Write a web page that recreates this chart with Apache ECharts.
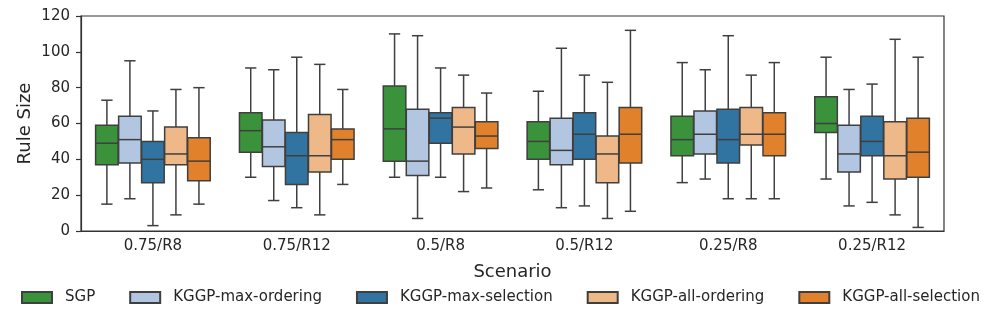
<!DOCTYPE html>
<html>
<head>
<meta charset="utf-8">
<script src="https://cdn.jsdelivr.net/npm/echarts@6/dist/echarts.min.js"></script>
<style>
  html, body { margin: 0; padding: 0; background: #fff; }
  #chart { width: 997px; height: 321px; }
</style>
</head>
<body>
<div id="chart"></div>
<script>
// scenarios on the x axis
var scenarios = ["0.75/R8", "0.75/R12", "0.5/R8", "0.5/R12", "0.25/R8", "0.25/R12"];
var methods = ["SGP", "KGGP-max-ordering", "KGGP-max-selection", "KGGP-all-ordering", "KGGP-all-selection"];
var colors = ["#3a923a", "#b2c6e1", "#3274a1", "#efb888", "#e1812c"];
var yTicks = [0, 20, 40, 60, 80, 100, 120];

// each row: [lowWhisker, q1, median, q3, highWhisker], one row per scenario
var sgp = [
  [15, 37, 49, 59, 73],
  [30, 44, 56, 66, 91],
  [30, 39, 57, 81, 110],
  [23, 40, 50, 61, 78],
  [27, 42, 51, 64, 94],
  [29, 55, 60, 75, 97]
];
var maxOrdering = [
  [18, 38, 51, 64, 95],
  [17, 36, 47, 62, 90],
  [7, 31, 39, 68, 109],
  [13, 37, 45, 63, 102],
  [29, 43, 54, 67, 90],
  [14, 33, 43, 59, 79]
];
var maxSelection = [
  [3, 27, 40, 50, 67],
  [13, 26, 42, 55, 97],
  [30, 49, 63, 66, 91],
  [14, 40, 54, 66, 87],
  [18, 38, 51, 68, 109],
  [16, 42, 50, 64, 82]
];
var allOrdering = [
  [9, 37, 43, 58, 79],
  [9, 33, 42, 65, 93],
  [22, 43, 58, 69, 87],
  [7, 27, 43, 53, 83],
  [18, 48, 54, 69, 87],
  [9, 29, 42, 61, 107]
];
var allSelection = [
  [15, 28, 39, 52, 80],
  [26, 40, 51, 57, 79],
  [24, 46, 53, 61, 77],
  [11, 38, 54, 69, 112],
  [18, 42, 54, 66, 94],
  [2, 30, 44, 63, 97]
];
var allData = [sgp, maxOrdering, maxSelection, allOrdering, allSelection];

var edge = "#3f3f3f";

function makeRender(k) {
  return function (params, api) {
    var ci = api.value(0);
    var band = api.size([1, 0])[0];
    var slot = band * 0.8 / methods.length;
    var w = slot * 0.98;
    var cx = api.coord([ci, 0])[0] - band * 0.4 + slot * (k + 0.5);
    var yLow = api.coord([ci, api.value(1)])[1];
    var yQ1 = api.coord([ci, api.value(2)])[1];
    var yMed = api.coord([ci, api.value(3)])[1];
    var yQ3 = api.coord([ci, api.value(4)])[1];
    var yHigh = api.coord([ci, api.value(5)])[1];
    var ls = { stroke: edge, lineWidth: 1.5 };
    var cap = w / 4;
    return {
      type: "group",
      children: [
        { type: "line", shape: { x1: cx, y1: yQ1, x2: cx, y2: yLow }, style: ls },
        { type: "line", shape: { x1: cx, y1: yQ3, x2: cx, y2: yHigh }, style: ls },
        { type: "line", shape: { x1: cx - cap, y1: yLow, x2: cx + cap, y2: yLow }, style: ls },
        { type: "line", shape: { x1: cx - cap, y1: yHigh, x2: cx + cap, y2: yHigh }, style: ls },
        { type: "rect", shape: { x: cx - w / 2, y: yQ3, width: w, height: yQ1 - yQ3 },
          style: { fill: colors[k], stroke: edge, lineWidth: 1.5 } },
        { type: "line", shape: { x1: cx - w / 2, y1: yMed, x2: cx + w / 2, y2: yMed }, style: ls }
      ]
    };
  };
}

var series = methods.map(function (name, k) {
  return {
    name: name,
    type: "custom",
    renderItem: makeRender(k),
    itemStyle: { color: colors[k], borderColor: edge, borderWidth: 1.5 },
    encode: { x: 0, y: [1, 2, 3, 4, 5] },
    data: allData[k].map(function (r, i) { return [i].concat(r); })
  };
});

var chart = echarts.init(document.getElementById("chart"));
chart.setOption({
  animation: false,
  textStyle: { fontFamily: "DejaVu Sans" },
  grid: { left: 81, right: 53, top: 16, bottom: 90, show: true, borderColor: "#333", borderWidth: 1.2 },
  legend: {
    data: methods,
    left: 16,
    top: 285,
    itemWidth: 30,
    itemHeight: 11,
    itemGap: 34,
    icon: "rect",
    textStyle: { fontSize: 15, color: "#262626", padding: [0, 0, 0, 8] }
  },
  xAxis: {
    type: "category",
    data: scenarios,
    name: "Scenario",
    nameLocation: "middle",
    nameGap: 32,
    nameMoveOverlap: false,
    nameTextStyle: { fontSize: 18, color: "#262626" },
    axisLine: { lineStyle: { color: "#333", width: 1.2 } },
    axisTick: { alignWithLabel: true, length: 5, lineStyle: { color: "#333", width: 1.2 } },
    axisLabel: { fontSize: 15, color: "#262626", margin: 8 },
    splitLine: { show: false }
  },
  yAxis: {
    type: "value",
    min: 0,
    max: 120,
    interval: 20,
    name: "Rule Size",
    nameLocation: "middle",
    nameGap: 47,
    nameMoveOverlap: false,
    nameTextStyle: { fontSize: 18, color: "#262626" },
    axisLine: { show: true, lineStyle: { color: "#333", width: 1.2 } },
    axisTick: { show: true, length: 5, lineStyle: { color: "#333", width: 1.2 } },
    axisLabel: {
      fontSize: 15, color: "#262626", margin: 11,
      formatter: function (v) { return yTicks.indexOf(v) >= 0 ? String(v) : ""; }
    },
    splitLine: { show: false }
  },
  series: series
});
</script>
</body>
</html>
